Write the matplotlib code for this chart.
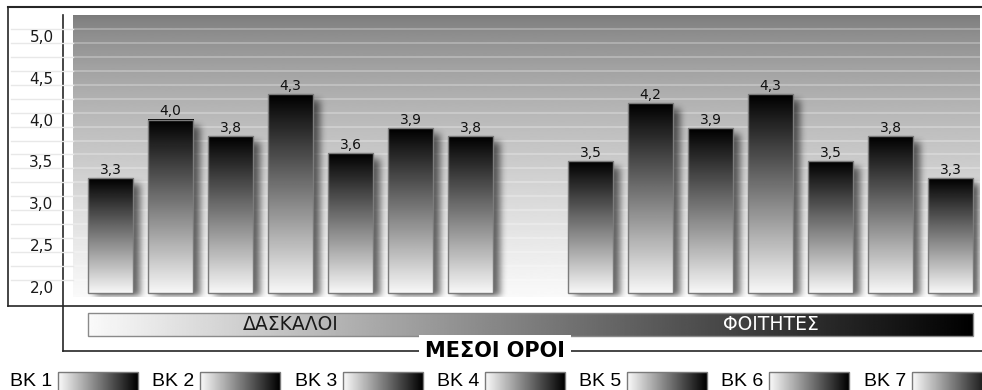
import numpy as np
import matplotlib
matplotlib.use("Agg")
import matplotlib.pyplot as plt
from matplotlib.patches import Rectangle

# ---- data -------------------------------------------------------------
groups = ["ΔΑΣΚΑΛΟΙ", "ΦΟΙΤΗΤΕΣ"]
series = ["BK 1", "BK 2", "BK 3", "BK 4", "BK 5", "BK 6", "BK 7"]
teachers = [3.3, 4.0, 3.8, 4.3, 3.6, 3.9, 3.8]
students = [3.5, 4.2, 3.9, 4.3, 3.5, 3.8, 3.3]
yticks = [2.0, 2.5, 3.0, 3.5, 4.0, 4.5, 5.0]
ytick_labels = ["2,0", "2,5", "3,0", "3,5", "4,0", "4,5", "5,0"]
axis_title = "ΜΕΣΟΙ ΟΡΟΙ"

W, H = 982, 390
fig = plt.figure(figsize=(W / 100, H / 100), dpi=100)
fig.patch.set_facecolor("white")


def px_box(x0, y0, x1, y1):
    """pixel box (top-left origin) -> figure fraction rect"""
    return [x0 / W, 1 - y1 / H, (x1 - x0) / W, (y1 - y0) / H]


# full-figure layer for frames, group band and legend
deco = fig.add_axes([0, 0, 1, 1], zorder=0)
deco.set_xlim(0, W)
deco.set_ylim(H, 0)
deco.axis("off")

ax = fig.add_axes(px_box(73, 15, 980, 297), zorder=1)

XLIM = (-0.625, 14.49)
YLIM = (1.88, 5.25)
BASE = 1.93
BAR_W = 0.75

x = np.r_[np.arange(len(teachers)), np.arange(len(students)) + len(teachers) + 1]
vals = np.r_[teachers, students]

# plot background: grey at the top fading to near white at the bottom
t_top = np.linspace(1, 0, 300).reshape(-1, 1)   # row 0 is the bottom edge
bg = 0.48 + 0.5 * t_top ** 0.7
ax.imshow(bg, extent=(*XLIM, *YLIM), origin="lower", cmap="gray",
          vmin=0, vmax=1, aspect="auto", zorder=0, interpolation="bilinear")

# light stripes across the background
stripes = np.arange(2.0 + 1 / 12, YLIM[1], 1 / 6)
for s in stripes:
    ax.axhline(s, color="white", alpha=0.3, lw=1.2, zorder=1)
    ax.plot([-0.068, 0], [s, s], transform=ax.get_yaxis_transform(),
            color="#e8e8e8", lw=1.0, clip_on=False, zorder=1)

# bars with vertical black->white gradient fill
bars = ax.bar(x, vals - BASE, bottom=BASE, width=BAR_W, color="none",
              edgecolor="#7c7c7c", linewidth=1.0, zorder=4)
grad = np.linspace(0.97, 0.0, 256).reshape(-1, 1)
for b in bars:
    x0, y0, w, h = b.get_x(), b.get_y(), b.get_width(), b.get_height()
    ax.imshow(grad, extent=(x0, x0 + w, y0, y0 + h), origin="lower",
              cmap="gray", vmin=0, vmax=1, aspect="auto", zorder=3,
              interpolation="bilinear")

for xi, v in zip(x, vals):
    ax.text(xi, v + 0.015, f"{v:.1f}".replace(".", ","), ha="center",
            va="bottom", fontsize=10, color="#111111", zorder=5)

ax.set_xlim(*XLIM)
ax.set_ylim(*YLIM)

# soft drop shadow behind the bars, built in the axes' pixel grid
bbox = ax.get_window_extent()
aw, ah = int(round(bbox.width)), int(round(bbox.height))
mask = np.zeros((ah, aw))
off_x, off_y = 7, 6
for b in bars:
    (dx0, dy0), (dx1, dy1) = ax.transData.transform(
        [(b.get_x(), b.get_y()), (b.get_x() + b.get_width(), b.get_y() + b.get_height())])
    c0 = int(round(dx0 - bbox.x0)) + off_x
    c1 = int(round(dx1 - bbox.x0)) + off_x
    r0 = int(round(bbox.y1 - dy1)) + off_y
    r1 = int(round(bbox.y1 - dy0)) + off_y
    mask[max(r0, 0):min(r1, ah), max(c0, 0):min(c1, aw)] = 1.0


def box_blur(a, r):
    k = np.ones(2 * r + 1) / (2 * r + 1)
    a = np.apply_along_axis(lambda m: np.convolve(m, k, mode="same"), 0, a)
    a = np.apply_along_axis(lambda m: np.convolve(m, k, mode="same"), 1, a)
    return a


for _ in range(3):
    mask = box_blur(mask, 3)
shadow = np.zeros((ah, aw, 4))
shadow[..., 3] = mask * 0.6
ax.imshow(shadow, extent=(*XLIM, *YLIM), origin="upper", aspect="auto",
          zorder=2, interpolation="bilinear")
ax.set_xlim(*XLIM)
ax.set_ylim(*YLIM)

for sp in ax.spines.values():
    sp.set_visible(False)
ax.set_xticks([])
ax.set_yticks(yticks)
ax.set_yticklabels(ytick_labels, fontsize=11, color="#1a1a1a")
ax.tick_params(axis="y", length=0, pad=14)

# ---- frames ------------------------------------------------------------
lc = "#262626"
lw = 1.2
deco.plot([8, W], [7, 7], color=lc, lw=1.5)
deco.plot([8, 8], [7, 306], color=lc, lw=lw)
deco.plot([8, W], [306, 306], color=lc, lw=lw)
deco.plot([63, 63], [15, 351], color=lc, lw=lw)
deco.plot([63, W], [351, 351], color=lc, lw=lw)


def data_to_px(xv):
    return ax.transData.transform((xv, YLIM[0]))[0]


# group band: white->black horizontal gradient under the categories
band_l = data_to_px(bars[0].get_x())
band_r = data_to_px(bars[-1].get_x() + bars[-1].get_width())
hgrad = np.linspace(0.98, 0.0, 512).reshape(1, -1)
deco.imshow(hgrad, extent=(band_l, band_r, 336, 313), cmap="gray", vmin=0,
            vmax=1, aspect="auto", interpolation="bilinear", zorder=1)
deco.add_patch(Rectangle((band_l, 313), band_r - band_l, 23, fill=False,
                         edgecolor="#8a8a8a", lw=1.0, zorder=2))
group_centers = [np.mean(x[:len(teachers)]), np.mean(x[len(teachers):])]
group_colors = ["#1a1a1a", "white"]
for gname, gc, col in zip(groups, group_centers, group_colors):
    deco.text(data_to_px(gc), 325, gname, ha="center", va="center",
              fontsize=13.5, color=col, zorder=3)

deco.text(495, 351, axis_title, ha="center", va="center", fontsize=15,
          fontweight="bold", color="black", zorder=3,
          bbox=dict(facecolor="white", edgecolor="none", pad=4))

# ---- legend ------------------------------------------------------------
sw = np.linspace(0.98, 0.0, 256).reshape(1, -1)
for i, name in enumerate(series):
    tx = 10 + 142.3 * i
    deco.text(tx, 381, name, ha="left", va="center", fontsize=14,
              family=["Liberation Sans", "DejaVu Sans"], color="black")
    deco.imshow(sw, extent=(tx + 48, tx + 128, 392, 372), cmap="gray",
                vmin=0, vmax=1, aspect="auto", interpolation="bilinear")
    deco.add_patch(Rectangle((tx + 48, 372), 80, 20, fill=False,
                             edgecolor="#7a7a7a", lw=1.0))

deco.set_xlim(0, W)
deco.set_ylim(H, 0)

fig.savefig("out.png", dpi=100, facecolor="white")
